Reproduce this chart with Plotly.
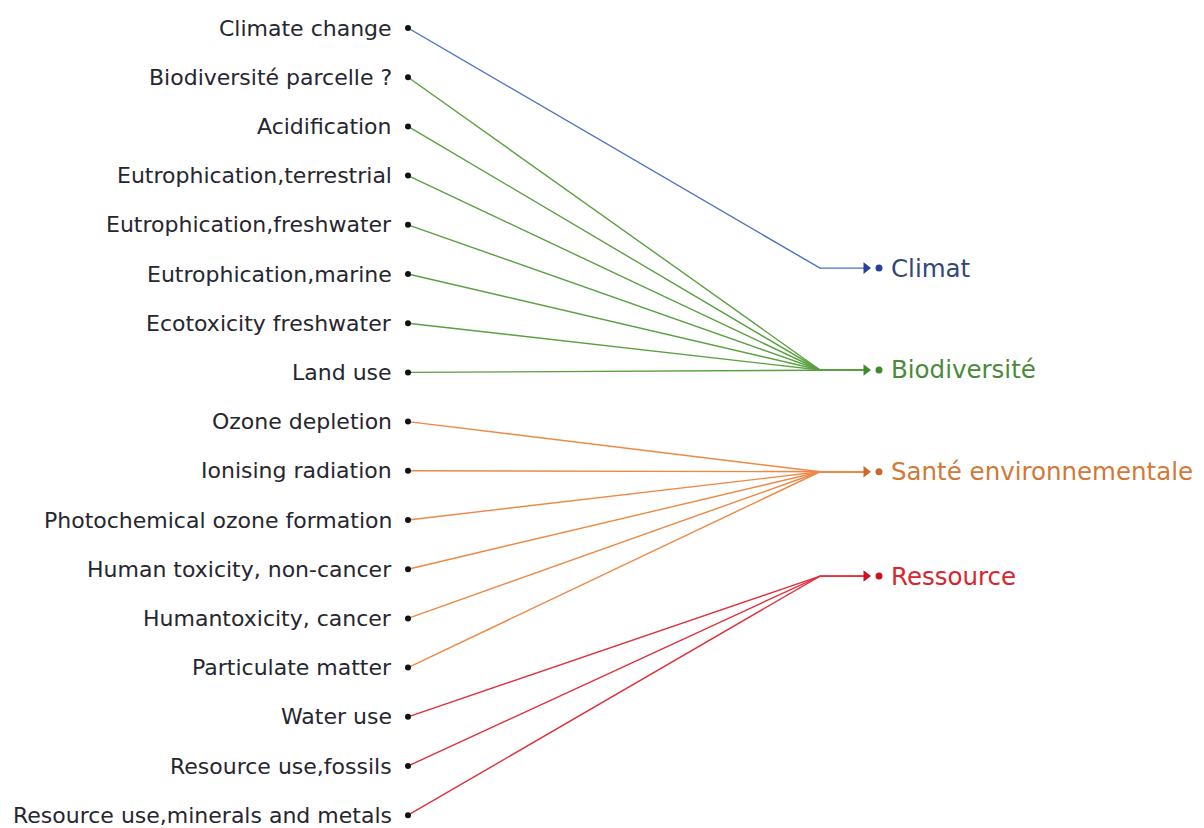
import plotly.graph_objects as go

# left-hand indicators (top to bottom) and the group each one feeds
indicators = [
    "Climate change", "Biodiversité parcelle ?", "Acidification",
    "Eutrophication,terrestrial", "Eutrophication,freshwater",
    "Eutrophication,marine", "Ecotoxicity freshwater", "Land use",
    "Ozone depletion", "Ionising radiation", "Photochemical ozone formation",
    "Human toxicity, non-cancer", "Humantoxicity, cancer", "Particulate matter",
    "Water use", "Resource use,fossils", "Resource use,minerals and metals",
]
groups_of = [0, 1, 1, 1, 1, 1, 1, 1, 2, 2, 2, 2, 2, 2, 3, 3, 3]

# right-hand groups, their vertical position (in row units) and colours
groups = ["Climat", "Biodiversité", "Santé environnementale", "Ressource"]
group_rows = [4.88, 6.95, 9.02, 11.14]
line_colors = ["#4a72c0", "#5aa040", "#ee8844", "#e0303a"]
text_colors = ["#33457a", "#4a8a3a", "#d27838", "#d8252e"]
dot_colors = ["#2a3fa0", "#3f8a2f", "#c96a28", "#cc1020"]

X_SRC = 408
X_JOIN = 820
X_ARROW = 868
X_DOT = 879

fig = go.Figure()

# connection lines
for i, g in enumerate(groups_of):
    fig.add_trace(go.Scatter(
        x=[X_SRC, X_JOIN, X_ARROW], y=[i, group_rows[g], group_rows[g]],
        mode="lines", line=dict(color=line_colors[g], width=1.4),
        hoverinfo="skip", showlegend=False,
    ))

# source dots
fig.add_trace(go.Scatter(
    x=[X_SRC] * len(indicators), y=list(range(len(indicators))),
    mode="markers", marker=dict(color="#111111", size=6),
    hoverinfo="skip", showlegend=False,
))

# arrowheads and target dots
fig.add_trace(go.Scatter(
    x=[X_ARROW - 2] * len(groups), y=group_rows, mode="markers",
    marker=dict(symbol="triangle-right", size=10, color=dot_colors),
    hoverinfo="skip", showlegend=False,
))
fig.add_trace(go.Scatter(
    x=[X_DOT] * len(groups), y=group_rows, mode="markers",
    marker=dict(symbol="circle", size=7, color=dot_colors),
    hoverinfo="skip", showlegend=False,
))

# left labels
for i, name in enumerate(indicators):
    fig.add_annotation(x=394, y=i, text=name, showarrow=False, xanchor="right",
                       yanchor="middle", font=dict(size=22, color="#26262f"))

# right labels
for g, name in enumerate(groups):
    fig.add_annotation(x=889, y=group_rows[g], text=name, showarrow=False,
                       xanchor="left", yanchor="middle",
                       font=dict(size=24.5, color=text_colors[g]))

# the page body adds an 8px margin, so the figure is 8px smaller and the
# axis ranges start at pixel 8
fig.update_layout(
    width=1196, height=820,
    margin=dict(l=0, r=0, t=0, b=0),
    paper_bgcolor="white", plot_bgcolor="white",
    font=dict(family="'DejaVu Sans', sans-serif"),
    xaxis=dict(range=[8, 1204], visible=False, fixedrange=True),
    yaxis=dict(range=[16.26, -0.407], visible=False, fixedrange=True),
)

fig.write_html("out.html")
